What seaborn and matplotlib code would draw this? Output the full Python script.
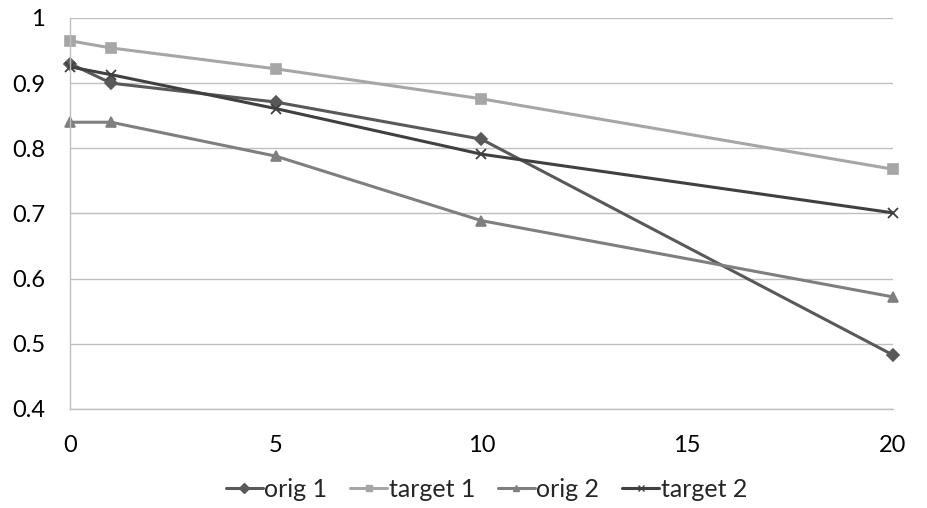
import matplotlib
matplotlib.use("Agg")
import matplotlib.pyplot as plt
import seaborn as sns
import pandas as pd

x_vals = [0, 1, 5, 10, 20]
orig1 = [0.930, 0.900, 0.871, 0.814, 0.483]
target1 = [0.965, 0.954, 0.922, 0.876, 0.768]
orig2 = [0.840, 0.840, 0.788, 0.689, 0.572]
target2 = [0.925, 0.913, 0.861, 0.791, 0.701]
series_names = ["orig 1", "target 1", "orig 2", "target 2"]
y_ticks = [0.4, 0.5, 0.6, 0.7, 0.8, 0.9, 1.0]
y_labels = ["0.4", "0.5", "0.6", "0.7", "0.8", "0.9", "1"]
x_ticks = [0, 5, 10, 15, 20]

sns.set_theme(style="white")
plt.rcParams["font.family"] = ["Lato", "DejaVu Sans"]

rows = []
for name, vals in zip(series_names, [orig1, target1, orig2, target2]):
    for xv, yv in zip(x_vals, vals):
        rows.append({"x": xv, "y": yv, "series": name})
df = pd.DataFrame(rows)

colors = {"orig 1": "#595959", "target 1": "#A6A6A6", "orig 2": "#7F7F7F", "target 2": "#404040"}
markers = {"orig 1": "D", "target 1": "s", "orig 2": "^", "target 2": "x"}
msizes = {"orig 1": 6, "target 1": 7, "orig 2": 7, "target 2": 7}

fig = plt.figure(figsize=(9.28, 5.08), dpi=100)
ax = fig.add_axes([0.0754, 0.195, 0.962 - 0.0754, 0.9646 - 0.195])

for name in series_names:
    sub = df[df["series"] == name]
    sns.lineplot(data=sub, x="x", y="y", ax=ax, color=colors[name], marker=markers[name],
                 markersize=msizes[name], markeredgecolor=colors[name], markeredgewidth=1.2 if name != "target 2" else 1.3,
                 linewidth=2.2, label=name, legend=False)

ax.set_xlim(0, 20)
ax.set_ylim(0.4, 1.0)
ax.set_yticks(y_ticks)
ax.set_yticklabels(y_labels)
ax.set_xticks(x_ticks)
ax.set_xlabel("")
ax.set_ylabel("")
ax.yaxis.grid(True, color="#BFBFBF", linewidth=1)
ax.xaxis.grid(False)
for s in ["top", "right"]:
    ax.spines[s].set_visible(False)
for s in ["left", "bottom"]:
    ax.spines[s].set_color("#BFBFBF")
    ax.spines[s].set_linewidth(1)
ax.tick_params(axis="both", labelsize=17, colors="#000000", length=0)
ax.tick_params(axis="y", pad=18)
ax.tick_params(axis="x", pad=19)
for line in ax.lines:
    line.set_clip_on(False)

handles = [plt.Line2D([0], [0], color=colors[n], marker=markers[n], markersize=5, linewidth=2.2,
                      markeredgecolor=colors[n]) for n in series_names]
fig.legend(handles, series_names, loc="center", bbox_to_anchor=(0.524, 0.036), ncol=4, frameon=False,
           fontsize=18, handlelength=1.5, handletextpad=0.05, columnspacing=0.9)

fig.savefig("out.png", dpi=100)
